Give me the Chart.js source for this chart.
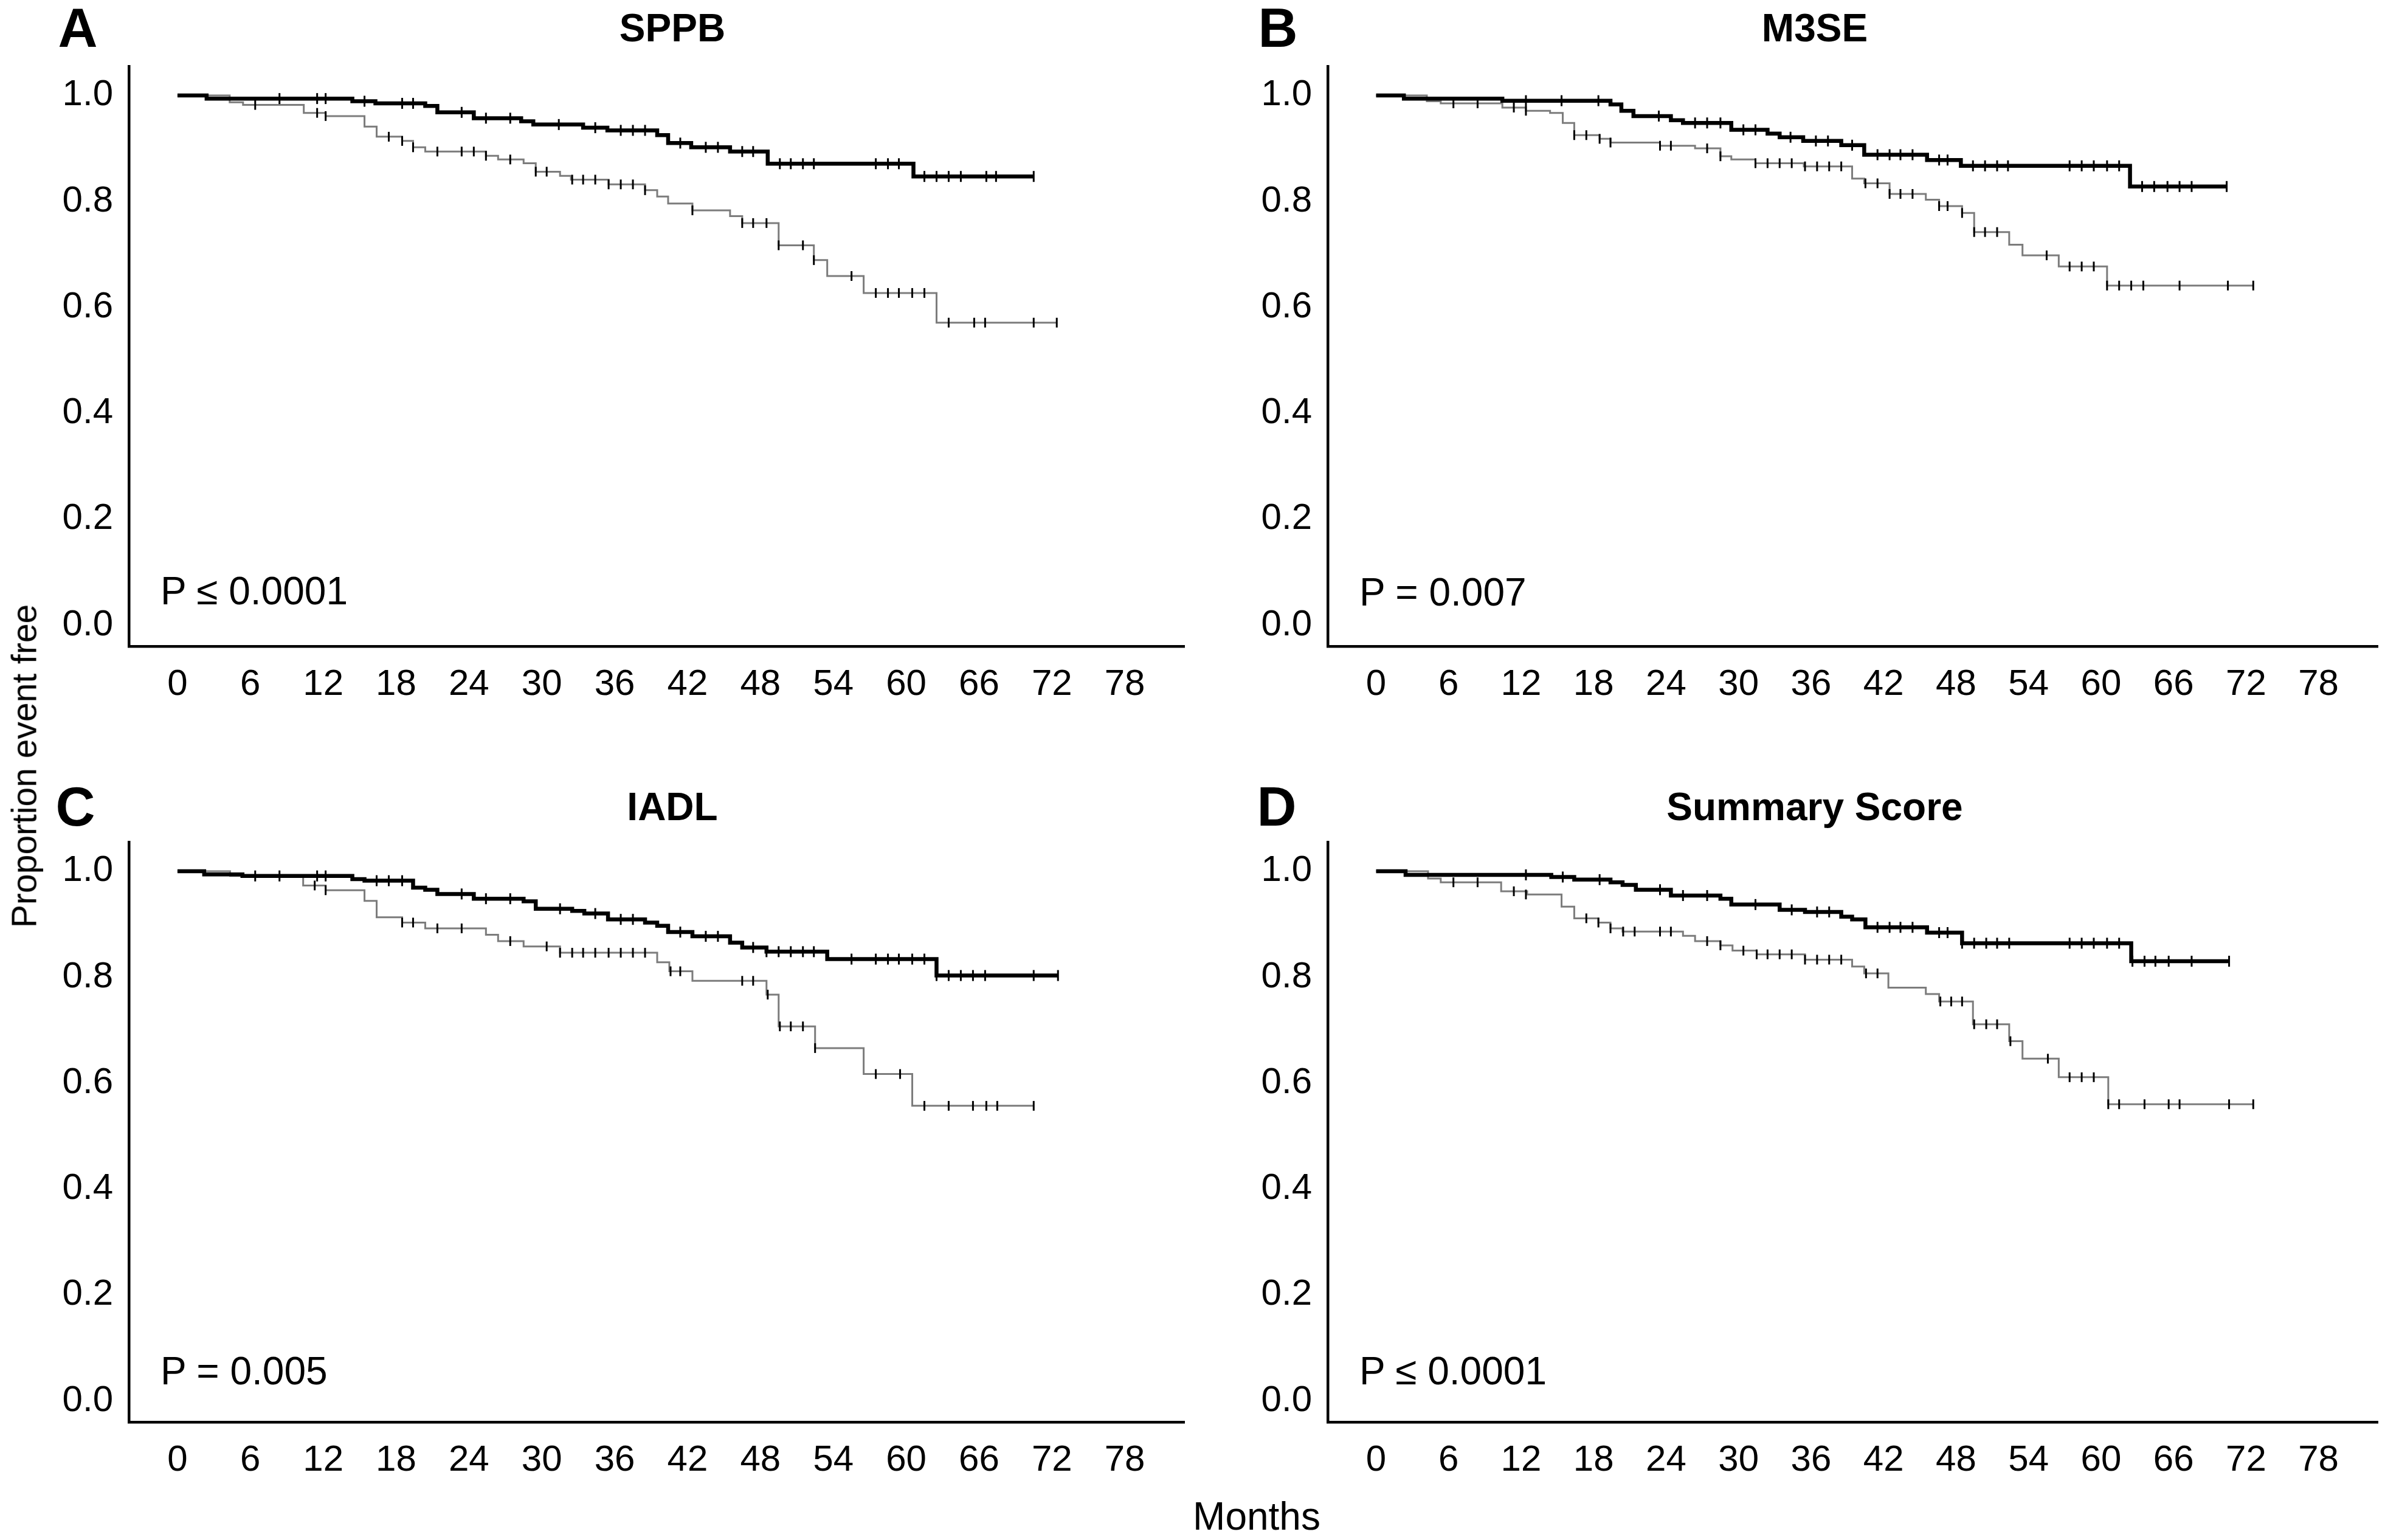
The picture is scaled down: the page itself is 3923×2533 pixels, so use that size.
<!DOCTYPE html>
<html>
<head>
<meta charset="utf-8">
<script src="https://cdn.jsdelivr.net/npm/chart.js@4.4.1/dist/chart.umd.min.js"></script>
<style>
  body { margin: 0; background: #fff; }
  #page { position: relative; width: 3923px; height: 2533px; overflow: hidden; background: #fff; }
  canvas { position: absolute; }
  .lbl { position: absolute; font-family: 'Liberation Sans', Arial, sans-serif; color: #000; line-height: 1; white-space: nowrap; }
</style>
</head>
<body>
<div id="page">
  <canvas id="chartA" width="1960" height="1200" style="left:0;top:0"></canvas>
  <canvas id="chartB" width="1951" height="1200" style="left:1972px;top:0"></canvas>
  <canvas id="chartC" width="1960" height="1200" style="left:0;top:1276px"></canvas>
  <canvas id="chartD" width="1951" height="1200" style="left:1972px;top:1276px"></canvas>
</div>
<script>
// eixos
const monthTicks = [0, 6, 12, 18, 24, 30, 36, 42, 48, 54, 60, 66, 72, 78];
const propTicks = [0, 0.2, 0.4, 0.6, 0.8, 1.0];

// A - SPPB
const sppbBlackT = [0, 2.4, 14.4, 16.3, 20.4, 21.4, 24.4, 28.3, 29.3, 33.4, 35.4, 39.5, 40.4, 42.3, 45.5, 48.6, 60.6, 70.5];
const sppbBlackS = [1.0, 0.994, 0.989, 0.985, 0.980, 0.968, 0.957, 0.951, 0.945, 0.939, 0.934, 0.925, 0.910, 0.902, 0.894, 0.871, 0.847, 0.847];
const sppbBlackCens = [8.4, 11.5, 12.2, 15.4, 18.5, 19.4, 23.4, 25.4, 27.4, 31.4, 34.4, 36.5, 37.5, 38.5, 41.4, 43.5, 44.5, 46.5, 47.4, 49.6, 50.5, 51.5, 52.4, 57.5, 58.5, 59.4, 61.5, 62.5, 63.5, 64.5, 66.6, 67.4, 70.5];
const sppbGrayT = [0, 4.3, 5.4, 10.4, 12.2, 15.4, 16.4, 18.5, 19.4, 20.4, 25.4, 26.4, 28.5, 29.5, 31.5, 32.4, 35.5, 38.5, 39.5, 40.4, 42.4, 45.5, 46.5, 49.5, 52.4, 53.5, 56.5, 62.5, 72.4];
const sppbGrayS = [1.0, 0.987, 0.982, 0.967, 0.961, 0.941, 0.922, 0.914, 0.902, 0.894, 0.886, 0.879, 0.872, 0.856, 0.848, 0.841, 0.832, 0.821, 0.809, 0.796, 0.783, 0.772, 0.759, 0.717, 0.689, 0.659, 0.627, 0.571, 0.571];
const sppbGrayCens = [6.4, 11.5, 12.2, 17.4, 18.5, 19.4, 21.4, 23.4, 24.4, 25.4, 27.4, 29.5, 30.4, 32.5, 33.4, 34.4, 35.5, 36.5, 37.5, 38.5, 42.4, 46.5, 47.4, 48.5, 49.5, 51.5, 52.4, 55.5, 57.5, 58.5, 59.4, 60.5, 61.5, 63.5, 65.6, 66.5, 70.5, 72.4];

// B - M3SE
const m3seBlackT = [0, 2.3, 10.45, 19.4, 20.3, 21.3, 24.4, 25.4, 29.4, 32.4, 33.4, 35.35, 38.5, 40.4, 45.6, 48.4, 62.4, 70.4];
const m3seBlackS = [1.0, 0.994, 0.990, 0.983, 0.971, 0.961, 0.953, 0.948, 0.935, 0.928, 0.921, 0.914, 0.906, 0.888, 0.878, 0.867, 0.828, 0.828];
const m3seBlackCens = [12.4, 15.35, 18.4, 23.4, 26.4, 27.4, 28.5, 30.4, 31.4, 34.3, 36.4, 37.4, 39.4, 41.5, 42.5, 43.4, 44.4, 46.6, 47.3, 49.4, 50.4, 51.4, 52.3, 57.4, 58.4, 59.4, 60.5, 61.5, 63.4, 64.4, 65.5, 66.5, 67.5, 70.4];
const m3seGrayT = [0, 4.2, 5.35, 10.45, 12.4, 14.4, 15.45, 16.4, 18.5, 19.4, 23.5, 26.4, 28.5, 29.4, 31.4, 35.4, 39.4, 40.4, 42.5, 45.5, 46.6, 48.5, 49.5, 52.4, 53.5, 56.5, 60.5, 72.6];
const m3seGrayS = [1.0, 0.989, 0.985, 0.977, 0.971, 0.967, 0.948, 0.925, 0.918, 0.911, 0.905, 0.900, 0.885, 0.879, 0.872, 0.866, 0.843, 0.834, 0.814, 0.803, 0.791, 0.778, 0.742, 0.718, 0.698, 0.677, 0.641, 0.641];
const m3seGrayCens = [6.4, 8.4, 11.4, 12.4, 16.4, 17.4, 18.5, 19.4, 23.5, 24.4, 27.4, 28.5, 31.4, 32.4, 33.4, 34.4, 35.5, 36.5, 37.5, 38.5, 40.5, 41.5, 42.5, 43.4, 44.4, 46.6, 47.3, 48.5, 49.5, 50.4, 51.4, 55.5, 57.4, 58.4, 59.4, 60.5, 61.5, 62.5, 63.5, 66.5, 70.5, 72.6];

// C - IADL
const iadlBlackT = [0, 2.2, 5.35, 14.4, 15.4, 19.4, 20.4, 21.4, 24.4, 28.5, 29.5, 32.5, 33.5, 35.45, 38.5, 39.5, 40.4, 42.4, 45.5, 46.5, 48.5, 53.5, 62.5, 72.5];
const iadlBlackS = [1.0, 0.994, 0.991, 0.985, 0.982, 0.969, 0.965, 0.957, 0.948, 0.943, 0.929, 0.925, 0.920, 0.909, 0.903, 0.897, 0.885, 0.877, 0.865, 0.856, 0.848, 0.834, 0.803, 0.803];
const iadlBlackCens = [6.4, 8.4, 11.5, 12.2, 16.4, 17.4, 18.5, 23.4, 25.4, 27.4, 31.5, 34.4, 36.5, 37.5, 41.4, 43.5, 44.5, 47.4, 48.5, 49.5, 50.5, 51.5, 52.4, 55.5, 57.5, 58.5, 59.4, 60.5, 61.5, 62.5, 63.5, 64.5, 65.5, 66.5, 70.5, 72.5];
const iadlGrayT = [0, 4.33, 10.35, 12.2, 15.4, 16.4, 18.5, 20.4, 25.4, 26.4, 28.5, 31.5, 39.5, 40.5, 42.4, 48.5, 49.5, 52.5, 56.5, 60.5, 70.5];
const iadlGrayS = [1.0, 0.991, 0.973, 0.964, 0.944, 0.913, 0.903, 0.892, 0.880, 0.868, 0.858, 0.846, 0.828, 0.811, 0.793, 0.767, 0.707, 0.666, 0.617, 0.557, 0.557];
const iadlGrayCens = [11.3, 12.2, 18.5, 19.4, 21.4, 23.4, 27.4, 30.4, 31.5, 32.5, 33.4, 34.4, 35.5, 36.5, 37.5, 38.5, 40.6, 41.4, 46.5, 47.4, 48.6, 49.6, 50.5, 51.5, 52.5, 57.5, 59.5, 61.5, 63.5, 65.5, 66.6, 67.5, 70.5];

// D - Summary Score
const sumBlackT = [0, 2.44, 14.5, 16.4, 19.4, 20.4, 21.5, 24.4, 28.5, 29.4, 33.4, 35.5, 38.5, 39.4, 40.5, 45.6, 48.5, 62.5, 70.6];
const sumBlackS = [1.0, 0.993, 0.989, 0.984, 0.979, 0.974, 0.965, 0.954, 0.948, 0.937, 0.927, 0.923, 0.914, 0.909, 0.894, 0.884, 0.864, 0.830, 0.830];
const sumBlackCens = [12.4, 15.45, 18.5, 23.5, 25.4, 27.4, 31.4, 34.4, 36.5, 37.5, 41.5, 42.5, 43.4, 44.4, 46.6, 47.3, 48.5, 49.5, 50.5, 51.4, 52.4, 57.4, 58.4, 59.4, 60.5, 61.5, 62.6, 63.6, 64.5, 65.6, 67.5, 70.6];
const sumGrayT = [0, 4.3, 5.35, 10.35, 12.5, 15.35, 16.4, 18.4, 19.4, 20.4, 25.4, 26.4, 28.5, 29.5, 31.5, 35.5, 39.4, 40.4, 42.4, 45.5, 46.6, 49.4, 52.4, 53.5, 56.5, 60.6, 72.6];
const sumGrayS = [1.0, 0.986, 0.979, 0.962, 0.956, 0.933, 0.911, 0.903, 0.892, 0.886, 0.878, 0.868, 0.860, 0.850, 0.843, 0.833, 0.820, 0.807, 0.780, 0.768, 0.754, 0.711, 0.679, 0.646, 0.611, 0.560, 0.560];
const sumGrayCens = [6.4, 8.4, 11.4, 12.4, 17.4, 18.4, 19.4, 20.45, 21.4, 23.5, 24.4, 27.4, 28.5, 30.4, 31.5, 32.4, 33.4, 34.4, 35.5, 36.5, 37.5, 38.5, 40.55, 41.5, 46.7, 47.6, 48.5, 49.5, 50.5, 51.4, 52.5, 55.6, 57.4, 58.4, 59.4, 60.6, 61.5, 63.6, 65.6, 66.5, 70.6, 72.6];

const panelTitles = ["SPPB", "M3SE", "IADL", "Summary Score"];
const panelLetters = ["A", "B", "C", "D"];
const pValues = ["P \u2264 0.0001", "P = 0.007", "P = 0.005", "P \u2264 0.0001"];

Chart.defaults.font.family = "'Liberation Sans', Arial, sans-serif";
Chart.defaults.color = "#000";

// valor da curva (degrau) num tempo de censura
function survAt(times, surv, t) {
    let v = surv[0];
    for (let i = 0; i < times.length; i++) {
        if (times[i] <= t + 0.15) v = surv[i];
    }
    return v;
}

function curve(times, surv) {
    return times.map((t, i) => ({ x: t, y: surv[i] }));
}

function censMarks(cens, times, surv) {
    return cens.map(t => ({ x: t, y: survAt(times, surv, t) }));
}

function makePanel(id, black, gray, padRight) {
    const el = document.getElementById(id);
    new Chart(el, {
        type: "line",
        data: {
            datasets: [
                {
                    type: "scatter",
                    data: censMarks(black.cens, black.t, black.s),
                    pointStyle: "line",
                    rotation: 90,
                    pointRadius: 9,
                    pointBorderWidth: 3,
                    pointBorderColor: "#000",
                    showLine: false,
                    order: 0
                },
                {
                    type: "scatter",
                    data: censMarks(gray.cens, gray.t, gray.s),
                    pointStyle: "line",
                    rotation: 90,
                    pointRadius: 8,
                    pointBorderWidth: 3,
                    pointBorderColor: "#000",
                    showLine: false,
                    order: 0
                },
                {
                    data: curve(black.t, black.s),
                    borderColor: "#000",
                    borderWidth: 6.5,
                    stepped: true,
                    pointRadius: 0,
                    fill: false,
                    order: 1
                },
                {
                    data: curve(gray.t, gray.s),
                    borderColor: "#7c7c7c",
                    borderWidth: 3,
                    stepped: true,
                    pointRadius: 0,
                    fill: false,
                    order: 2
                }
            ]
        },
        options: {
            responsive: false,
            animation: false,
            events: [],
            layout: { padding: { left: 0, top: 109, right: padRight, bottom: 0 } },
            plugins: { legend: { display: false }, tooltip: { enabled: false } },
            scales: {
                x: {
                    type: "linear",
                    min: -4,
                    max: 82.9,
                    grid: { display: false, drawTicks: false },
                    border: { display: true, color: "#000", width: 4.5 },
                    ticks: { color: "#000", font: { size: 60 }, padding: 27, maxRotation: 0, autoSkip: false },
                    afterBuildTicks: s => { s.ticks = monthTicks.map(v => ({ value: v })); },
                    afterFit: s => { s.height = 137; }
                },
                y: {
                    type: "linear",
                    min: -0.04,
                    max: 1.055,
                    grid: { display: false, drawTicks: false },
                    border: { display: true, color: "#000", width: 4.5 },
                    ticks: { color: "#000", font: { size: 60 }, padding: 26, callback: v => Number(v).toFixed(1) },
                    afterBuildTicks: s => { s.ticks = propTicks.map(v => ({ value: v })); },
                    afterFit: s => { s.width = 212; }
                }
            }
        }
    });
}

// textos por cima dos canvas
function addText(txt, x, y, size, bold, anchor, rotate) {
    const d = document.createElement("div");
    d.className = "lbl";
    d.textContent = txt;
    d.style.left = x + "px";
    d.style.top = y + "px";
    d.style.fontSize = size + "px";
    d.style.fontWeight = bold ? "bold" : "normal";
    let tr = anchor === "left" ? "translate(0,-50%)" : "translate(-50%,-50%)";
    if (rotate) tr += " rotate(-90deg)";
    d.style.transform = tr;
    document.getElementById("page").appendChild(d);
}

document.addEventListener("DOMContentLoaded", () => {
    makePanel("chartA",
        { t: sppbBlackT, s: sppbBlackS, cens: sppbBlackCens },
        { t: sppbGrayT, s: sppbGrayS, cens: sppbGrayCens }, 10);
    makePanel("chartB",
        { t: m3seBlackT, s: m3seBlackS, cens: m3seBlackCens },
        { t: m3seGrayT, s: m3seGrayS, cens: m3seGrayCens }, 2);
    makePanel("chartC",
        { t: iadlBlackT, s: iadlBlackS, cens: iadlBlackCens },
        { t: iadlGrayT, s: iadlGrayS, cens: iadlGrayCens }, 10);
    makePanel("chartD",
        { t: sumBlackT, s: sumBlackS, cens: sumBlackCens },
        { t: sumGrayT, s: sumGrayS, cens: sumGrayCens }, 2);

    const letterPos = [[128, 46], [2102, 46], [124, 1327], [2100, 1327]];
    const titlePos = [[1106, 46], [2985, 46], [1106, 1327], [2985, 1327]];
    const pPos = [[264, 972], [2236, 974], [264, 2255], [2236, 2255]];
    for (let i = 0; i < 4; i++) {
        addText(panelLetters[i], letterPos[i][0], letterPos[i][1], 90, true, "center");
        addText(panelTitles[i], titlePos[i][0], titlePos[i][1], 64, true, "center");
        addText(pValues[i], pPos[i][0], pPos[i][1], 64, false, "left");
    }
    addText("Proportion event free", 40, 1260, 57, false, "center", true);
    addText("Months", 2067, 2494, 64, false, "center");
});
</script>
</body>
</html>
